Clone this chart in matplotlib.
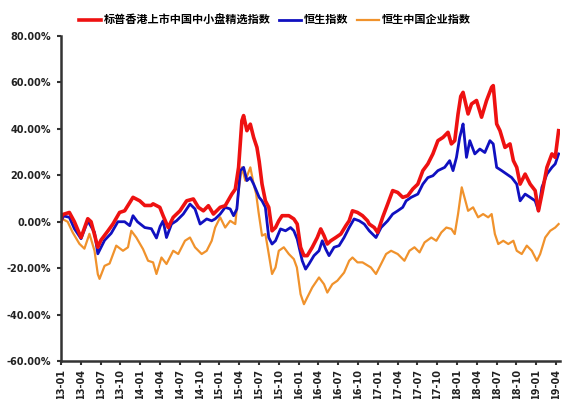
import matplotlib
matplotlib.use('Agg')
import matplotlib.pyplot as plt
from matplotlib.ticker import FuncFormatter

plt.rcParams['font.family'] = ['Noto Sans CJK SC', 'DejaVu Sans']

# time in months since 2013-01, value in %
red_t = [0, 0.18, 1.28, 2.04, 3.05, 4.07, 4.57, 5.59, 6.05, 7.11, 7.87, 8.89, 9.65,
         10.92, 11.94, 12.70, 13.66, 13.96, 14.98, 15.48, 16.25, 17.01, 18.03, 19.04,
         20.06, 20.82, 21.58, 22.34, 23.10, 24.12, 24.88, 25.89, 26.41, 26.91, 27.41,
         27.67, 28.17, 28.69, 29.19, 29.69, 30.03, 30.46, 30.97, 31.48, 31.98, 32.50,
         33.00, 33.50, 34.52, 35.28, 35.79, 36.30, 36.81, 37.31, 38.07, 38.83, 39.35,
         39.85, 40.35, 40.87, 41.63, 42.39, 43.16, 43.66, 44.16, 44.92, 45.68, 46.44,
         46.70, 47.46, 47.97, 48.73, 49.49, 50.25, 51.01, 51.77, 52.54, 53.30, 54.06,
         54.82, 55.58, 56.34, 57.10, 57.87, 58.63, 59.14, 59.65, 60.15, 60.56, 60.91,
         61.67, 62.19, 62.95, 63.71, 64.47, 65.24, 65.48, 66.00, 66.50, 67.26, 68.02,
         68.53, 69.04, 69.55, 70.31, 71.07, 71.83, 72.33, 72.85, 73.61, 74.37, 74.87,
         75.38]
red_v = [0, 3.0, 4.0, 0.0, -6.8, 1.3, 0.0, -11.0, -8.0, -4.0, -1.0, 4.0, 4.7,
         10.5, 9.0, 7.0, 7.0, 7.7, 6.2, 2.6, -2.5, 1.9, 4.7, 9.0,
         9.8, 6.2, 4.7, 6.9, 3.3, 6.2, 6.9, 11.9, 14.0, 23.4, 43.5,
         45.7, 39.2, 42.0, 36.3, 32.0, 26.0, 16.2, 9.0, 6.2, -3.9, -2.5,
         0.4, 2.6, 2.6, 1.2, -1.0, -11.0, -14.6, -14.6, -11.0, -6.8, -3.1,
         -6.0, -9.6, -8.2, -6.8, -5.3, -1.7, 0.4, 4.7, 4.0, 2.6, 0.4,
         -1.0, -2.5, -4.6, 1.9, 7.6, 13.4, 12.6, 10.5, 11.2, 14.1, 16.2,
         22.0, 24.9, 29.2, 34.9, 36.3, 38.5, 33.5, 34.9, 46.4, 54.0, 55.7,
         46.4, 50.7, 52.2, 45.0, 52.2, 57.9, 58.6, 42.1, 39.2, 32.0, 33.5,
         26.3, 23.4, 16.2, 20.5, 16.2, 13.4, 4.7, 11.9, 23.4, 29.2, 27.7,
         39.2]

blue_t = [0, 0.41, 1.28, 2.04, 3.05, 4.07, 5.09, 5.59, 6.61, 7.61, 8.63, 9.65, 10.42,
          10.92, 11.59, 12.70, 13.70, 14.47, 15.03, 15.48, 15.99, 16.75, 17.51, 18.53,
          19.55, 20.31, 21.08, 22.08, 22.84, 23.36, 24.12, 24.88, 25.64, 26.15, 26.65,
          27.17, 27.67, 28.17, 28.69, 29.19, 30.03, 30.46, 30.97, 31.48, 31.98, 32.50,
          33.26, 34.02, 34.78, 35.28, 35.79, 36.55, 37.06, 37.57, 38.33, 39.09, 39.59,
          40.11, 40.61, 41.37, 42.13, 42.89, 43.66, 44.41, 45.18, 45.94, 46.70, 47.72,
          48.49, 49.49, 50.25, 51.01, 51.77, 52.29, 53.05, 54.06, 54.82, 55.58, 56.34,
          57.10, 58.12, 58.88, 59.39, 59.91, 60.40, 60.66, 60.91, 61.43, 61.93, 62.69,
          63.45, 64.21, 64.98, 65.48, 66.00, 66.76, 67.52, 68.28, 69.04, 69.55, 70.31,
          71.07, 71.83, 72.33, 72.85, 73.61, 74.37, 74.87, 75.38]
blue_v = [0, 2.5, 1.9, -3.0, -7.3, 0.4, -4.6, -13.8, -8.0, -5.0, 0.0, 0.0, -1.7,
          2.6, 0.0, -2.5, -3.0, -7.0, -2.0, 0.4, -6.8, -1.0, 0.4, 3.3,
          7.6, 5.5, -1.0, 1.2, 0.4, 1.2, 3.3, 6.2, 5.5, 2.6, 5.5,
          22.0, 23.4, 17.7, 19.0, 16.2, 10.5, 9.0, 6.2, -6.8, -9.6, -8.2,
          -3.1, -3.9, -2.5, -3.9, -7.5, -16.8, -20.4, -18.2, -14.6, -12.5, -8.2,
          -11.8, -14.6, -11.0, -10.3, -6.8, -2.5, 1.2, 0.4, -1.0, -3.9, -6.8,
          -2.5, 0.4, 3.3, 4.7, 6.2, 9.0, 10.5, 11.9, 16.2, 19.0, 19.8,
          22.0, 23.4, 26.3, 22.0, 27.7, 36.3, 39.2, 42.1, 27.7, 34.9, 29.2,
          31.3, 29.8, 34.9, 33.5, 23.4, 22.0, 20.5, 19.0, 16.2, 9.0, 11.9,
          10.5, 9.0, 4.7, 14.8, 20.5, 23.4, 24.9, 29.2]

orange_t = [0, 0.26, 1.02, 1.78, 2.80, 3.56, 4.32, 5.09, 5.59, 5.85, 6.61, 7.37, 8.38,
            9.40, 10.16, 10.66, 11.42, 12.44, 13.20, 13.96, 14.47, 15.23, 15.99, 17.01,
            17.77, 18.79, 19.55, 20.31, 21.32, 22.08, 22.84, 23.36, 24.12, 24.88, 25.64,
            26.41, 26.91, 27.41, 27.93, 28.69, 29.19, 29.57, 29.94, 30.46, 30.97, 31.48,
            31.98, 32.50, 33.00, 33.76, 34.52, 35.28, 35.74, 36.30, 36.81, 37.31, 38.07,
            39.09, 39.85, 40.35, 41.11, 41.87, 42.89, 43.66, 44.16, 44.92, 45.68, 46.96,
            47.72, 48.49, 49.25, 50.01, 51.01, 52.03, 52.79, 53.55, 54.32, 55.08, 56.10,
            56.86, 57.62, 58.38, 59.14, 59.65, 60.15, 60.71, 61.17, 61.67, 62.43, 63.19,
            63.95, 64.71, 65.24, 65.73, 66.24, 67.00, 67.76, 68.53, 69.04, 69.80, 70.56,
            71.32, 72.09, 72.59, 73.35, 74.11, 74.87, 75.38]
orange_v = [0, 1.1, 0.0, -4.6, -9.5, -11.6, -5.2, -12.5, -22.6, -24.6, -19.0, -18.0, -10.3,
            -12.5, -11.0, -3.9, -6.8, -11.8, -16.8, -17.5, -22.5, -15.4, -18.2, -12.5,
            -13.9, -8.2, -6.8, -11.0, -13.9, -12.5, -8.2, -2.5, 1.9, -2.5, 0.4,
            -1.0, 13.4, 23.4, 17.7, 23.4, 16.2, 12.0, 4.0, -6.0, -5.3, -13.9,
            -22.5, -19.7, -12.5, -11.0, -13.9, -16.1, -19.7, -31.2, -35.5, -32.6, -28.3,
            -24.0, -26.9, -30.5, -26.9, -25.4, -21.9, -16.8, -15.4, -17.5, -17.5, -19.7,
            -22.5, -18.2, -13.9, -12.5, -13.9, -16.8, -12.5, -11.0, -13.2, -8.9, -6.8,
            -8.2, -4.6, -2.5, -3.1, -5.3, 3.3, 14.8, 10.0, 4.7, 6.2, 1.9,
            3.3, 1.9, 3.3, -5.3, -9.6, -8.2, -9.6, -8.2, -12.5, -13.9, -10.3,
            -12.5, -16.8, -13.9, -6.8, -3.9, -2.5, -1.0]

names = ['标普香港上市中国中小盘精选指数', '恒生指数', '恒生中国企业指数']
colors = ['#ee1111', '#1010c0', '#f0922c']

fig = plt.figure(figsize=(5.64, 3.99), dpi=100)
ax = fig.add_axes([0.108, 0.095, 0.885, 0.815])

l3, = ax.plot(orange_t, orange_v, color=colors[2], lw=1.6)
l2, = ax.plot(blue_t, blue_v, color=colors[1], lw=2.0)
l1, = ax.plot(red_t, red_v, color=colors[0], lw=2.6)

ax.set_xlim(0, 75.6)
ax.set_ylim(-60, 80)
ax.set_yticks(range(-60, 81, 20))
ax.yaxis.set_major_formatter(FuncFormatter(lambda v, p: '%.2f%%' % v))

months = list(range(0, 76, 3))
labels = ['%02d-%02d' % (13 + m // 12, m % 12 + 1) for m in months]
ax.set_xticks(months)
ax.set_xticklabels(labels, rotation=90)

for s in ['top', 'right']:
  ax.spines[s].set_visible(False)
for s in ['left', 'bottom']:
  ax.spines[s].set_color('#333333')
  ax.spines[s].set_linewidth(1.8)
ax.tick_params(axis='both', colors='#333333', width=1.5, length=3)
ax.tick_params(axis='y', pad=4)
ax.tick_params(axis='x', pad=2)
for t in ax.get_xticklabels() + ax.get_yticklabels():
  t.set_fontsize(7)
  t.set_fontweight('bold')
  t.set_family('DejaVu Sans')
  t.set_color('#222222')

fig.legend([l1, l2, l3], names, loc='center', bbox_to_anchor=(0.487, 0.95), ncol=3,
           frameon=False, handlelength=2.0, handletextpad=0.2, columnspacing=0.8,
           prop={'size': 8, 'weight': 'bold', 'family': ['Noto Sans CJK SC', 'DejaVu Sans']})

fig.savefig('out.png', dpi=100)
